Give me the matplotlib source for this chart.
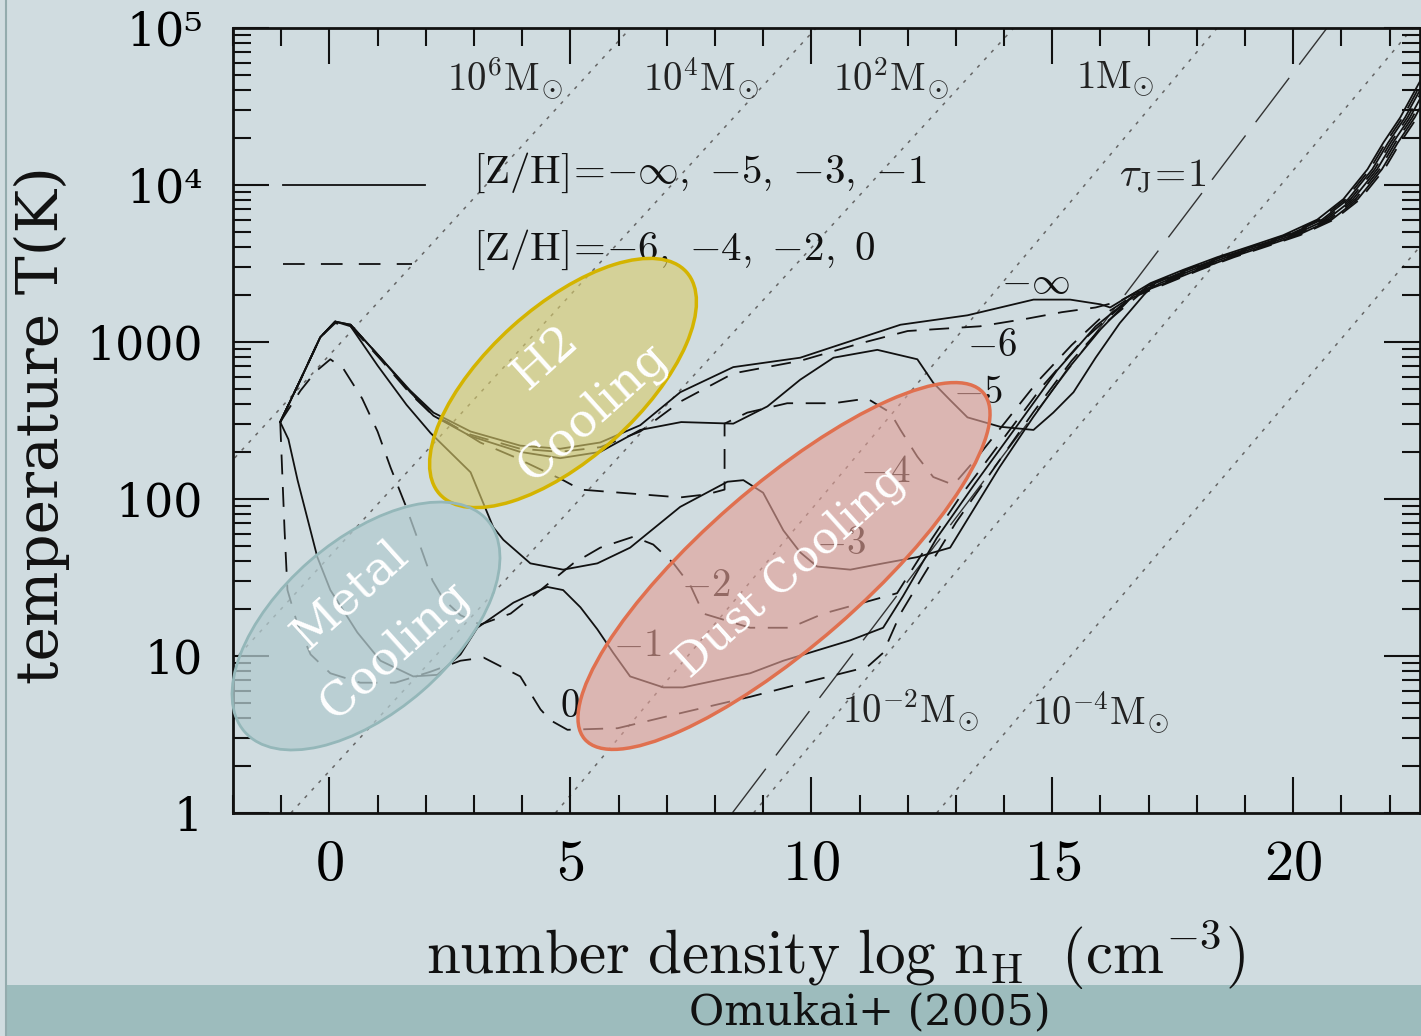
import numpy as np
import matplotlib
matplotlib.use("Agg")
import matplotlib.pyplot as plt
from matplotlib.patches import Ellipse, Rectangle
from matplotlib.ticker import FixedLocator, FixedFormatter, LogLocator, NullFormatter

plt.rcParams['mathtext.fontset'] = 'cm'

BG = '#d0dce0'
SERIF = ['DejaVu Serif']

# ---- thermal tracks: log n_H [cm^-3] and log T [K] ----
logn_minf = [-1.02, -0.60, -0.19, 0.12, 0.44, 1.06, 1.68, 2.16, 2.93, 3.96, 4.79, 5.62, 6.45, 7.28,
             8.38, 9.77, 10.46, 11.85, 13.24, 14.61, 15.37, 16.0, 16.2]
logT_minf = [2.49, 2.76, 3.03, 3.13, 3.11, 2.90, 2.69, 2.55, 2.43, 2.34, 2.32, 2.36, 2.47, 2.68,
             2.84, 2.90, 2.97, 3.11, 3.17, 3.27, 3.27, 3.24, 3.22]

logn_m6 = [-1.02, -0.60, -0.19, 0.12, 0.44, 1.06, 1.68, 2.16, 2.93, 3.96, 4.79, 5.62, 6.45, 7.28,
           8.38, 9.77, 11.0, 12.0, 13.5, 14.5, 15.2, 15.9, 16.4]
logT_m6 = [2.49, 2.76, 3.03, 3.12, 3.10, 2.89, 2.67, 2.53, 2.41, 2.32, 2.30, 2.33, 2.43, 2.62,
           2.80, 2.88, 2.99, 3.07, 3.10, 3.15, 3.19, 3.22, 3.26]

logn_m5 = [-1.02, -0.60, -0.19, 0.12, 0.44, 1.06, 1.68, 2.16, 2.93, 3.96, 4.79, 5.62, 6.45, 7.3,
           8.38, 9.09, 9.77, 10.46, 11.37, 12.2, 12.53, 12.88, 13.24, 13.92, 14.61, 15.02, 15.44,
           15.9, 16.4, 16.9]
logT_m5 = [2.49, 2.76, 3.03, 3.13, 3.11, 2.90, 2.68, 2.53, 2.40, 2.30, 2.26, 2.30, 2.44, 2.49,
           2.48, 2.59, 2.76, 2.90, 2.95, 2.89, 2.74, 2.63, 2.52, 2.46, 2.44, 2.55, 2.68,
           2.90, 3.12, 3.30]

logn_m4 = [-1.02, -0.60, -0.19, 0.12, 0.44, 1.06, 1.68, 2.16, 2.45, 3.13, 3.82, 4.85, 5.21, 7.28,
           7.84, 8.2, 8.2, 8.67, 9.50, 10.46, 11.16, 11.64, 11.85, 12.2, 12.53, 12.95,
           13.4, 14.0, 14.7, 15.4, 16.1, 16.7]
logT_m4 = [2.49, 2.76, 3.03, 3.13, 3.11, 2.90, 2.68, 2.53, 2.49, 2.36, 2.27, 2.12, 2.06, 2.01,
           2.03, 2.06, 2.48, 2.55, 2.61, 2.61, 2.64, 2.55, 2.44, 2.27, 2.14, 2.09,
           2.25, 2.48, 2.75, 2.98, 3.18, 3.30]

logn_m3 = [-1.02, -0.60, -0.19, 0.12, 0.44, 1.0, 1.6, 2.10, 2.93, 3.40, 3.61, 4.17, 4.85, 5.56,
           6.24, 7.28, 8.26, 8.59, 9.0, 9.42, 9.77, 10.12, 10.81, 11.49, 12.2, 12.88,
           13.3, 13.9, 14.6, 15.3, 16.0, 16.6]
logT_m3 = [2.49, 2.76, 3.03, 3.13, 3.10, 2.85, 2.60, 2.42, 2.17, 1.82, 1.74, 1.59, 1.55, 1.59,
           1.69, 1.95, 2.11, 2.12, 2.04, 1.80, 1.66, 1.57, 1.55, 1.59, 1.63, 1.69,
           1.90, 2.20, 2.52, 2.82, 3.08, 3.27]

logn_m2 = [-1.02, -0.60, -0.29, 0.02, 0.29, 0.68, 1.0, 1.27, 1.58, 1.85, 2.14, 2.37, 2.72, 3.13,
           3.76, 4.38, 5.06, 5.62, 6.31, 6.72, 7.14, 7.49, 7.76, 8.73, 9.56, 10.25, 11.08, 11.78,
           12.4, 13.1, 13.9, 14.8, 15.6, 16.4, 17.0]
logT_m2 = [2.49, 2.69, 2.81, 2.89, 2.83, 2.64, 2.43, 2.20, 1.96, 1.73, 1.48, 1.36, 1.26, 1.20,
           1.27, 1.42, 1.59, 1.69, 1.76, 1.71, 1.59, 1.45, 1.27, 1.18, 1.18, 1.27, 1.34, 1.40,
           1.70, 2.02, 2.35, 2.72, 3.00, 3.22, 3.36]

logn_m1 = [-1.02, -0.85, -0.66, -0.25, 0.02, 0.58, 1.06, 1.74, 2.24, 2.72, 3.07, 3.82, 4.52, 4.85,
           5.21, 5.56, 5.89, 6.24, 6.93, 7.34, 8.73, 9.42, 10.81, 11.49,
           11.9, 12.6, 13.4, 14.3, 15.1, 15.9, 16.7]
logT_m1 = [2.49, 2.38, 2.12, 1.63, 1.42, 1.15, 0.97, 0.87, 0.88, 1.01, 1.18, 1.34, 1.44, 1.42,
           1.31, 1.17, 1.02, 0.87, 0.80, 0.80, 0.89, 0.97, 1.10, 1.18,
           1.38, 1.75, 2.10, 2.48, 2.82, 3.10, 3.30]

logn_z0 = [-1.02, -0.98, -0.93, -0.87, -0.66, -0.39, 0.02, 0.64, 1.37, 2.10, 2.72, 3.20, 3.96, 4.38,
           4.59, 4.94, 5.98, 7.34, 8.73, 10.12, 11.16, 11.49, 11.85,
           12.3, 13.0, 13.8, 14.6, 15.4, 16.1, 16.8]
logT_z0 = [2.49, 2.18, 1.80, 1.42, 1.20, 1.01, 0.89, 0.83, 0.83, 0.90, 0.97, 0.99, 0.87, 0.66,
           0.59, 0.53, 0.54, 0.64, 0.74, 0.85, 0.93, 1.02, 1.27,
           1.50, 1.85, 2.20, 2.55, 2.88, 3.12, 3.30]

# common high-density (optically thick) track shared by all metallicities
logn_track = [17.04, 17.72, 18.42, 19.11, 19.79, 20.5, 21.04, 21.54, 21.87, 22.22, 22.7]
logT_track = [3.375, 3.46, 3.54, 3.61, 3.68, 3.78, 3.91, 4.10, 4.27, 4.43, 4.70]
track_shift = [0.0, 0.05, 0.10, 0.15, 0.20, 0.25, 0.30, 0.35]

# constant Jeans-mass lines: log n at T=1e5 K and at T=1 K
jeans_labels = ['10^6', '10^4', '10^2', '1', '10^{-2}', '10^{-4}']
jeans_logn_top = [6.25, 10.1, 14.2, 18.42, 22.48, 26.5]
jeans_logn_bottom = [-8.75, -4.9, -0.8, 4.69, 8.8, 12.6]

# tau_J = 1 line
tauJ_logn = [8.36, 20.7]
tauJ_logT = [0.0, 5.0]

x_ticks = [0, 5, 10, 15, 20]
y_ticks = [1, 10, 100, 1000, 1e4, 1e5]
y_ticklabels = ['1', '10', '100', '1000', '10\u2074', '10\u2075']

# ---- figure ----
fig = plt.figure(figsize=(14.21, 10.36), dpi=100, facecolor=BG)
ax = fig.add_axes([233 / 1421, 1 - 813 / 1036, (1420 - 233) / 1421, (813 - 28) / 1036])
ax.set_facecolor(BG)
ax.set_yscale('log')
ax.set_xlim(-2, 22.63)
ax.set_ylim(1, 1e5)

# Jeans-mass dotted lines
for top, bot in zip(jeans_logn_top, jeans_logn_bottom):
    ax.plot([bot, top], [1, 1e5], color='#666666', lw=1.1, dashes=(2.2, 4.5), zorder=1)

# tau_J = 1 long-dashed line
ax.plot(tauJ_logn, 10 ** np.array(tauJ_logT), color='#333333', lw=1.0, dashes=(40, 12), zorder=1)

curves = [
    (logn_minf, logT_minf, '-'), (logn_m6, logT_m6, '--'),
    (logn_m5, logT_m5, '-'), (logn_m4, logT_m4, '--'),
    (logn_m3, logT_m3, '-'), (logn_m2, logT_m2, '--'),
    (logn_m1, logT_m1, '-'), (logn_z0, logT_z0, '--'),
]
for (ln, lt, style), sh in zip(curves, track_shift):
    xs = list(ln) + [v + sh for v in logn_track]
    ys = 10 ** np.array(list(lt) + list(logT_track))
    if style == '-':
        ax.plot(xs, ys, color='#111111', lw=1.3, zorder=3)
    else:
        ax.plot(xs, ys, color='#111111', lw=1.3, dashes=(11, 7), zorder=3)

# legend samples
ax.plot([-0.97, 1.99], [1e4, 1e4], color='#111111', lw=1.3)
ax.plot([-0.97, 1.72], [10 ** 3.5, 10 ** 3.5], color='#111111', lw=1.3, dashes=(12, 9))
ax.text(2.99, 10 ** 4.08, r'$\mathrm{[Z/H]}\!=\!{-}\infty,\ {-}5,\ {-}3,\ {-}1$', fontsize=29.5,
        ha='left', va='center', color='#111111')
ax.text(2.99, 10 ** 3.585, r'$\mathrm{[Z/H]}\!=\!{-}6,\ {-}4,\ {-}2,\ 0$', fontsize=29.5,
        ha='left', va='center', color='#111111')

# Jeans-mass labels
mass_pos = [(3.65, 4.68), (7.70, 4.68), (11.64, 4.68), (16.31, 4.68), (12.05, 0.656), (16.0, 0.643)]
for lab, (px, py) in zip(jeans_labels, mass_pos):
    ax.text(px, 10 ** py, r'$%s\mathrm{M}_{\odot}$' % lab, fontsize=28, ha='center', va='center',
            color='#222222')
ax.text(17.28, 10 ** 4.06, r'$\tau_{\mathrm{J}}\!=\!1$', fontsize=29, ha='center', va='center',
        color='#222222')

# metallicity labels on the tracks
curve_labels = ['{-}\\infty', '{-}6', '{-}5', '{-}4', '{-}3', '{-}2', '{-}1', '0']
curve_label_pos = [(14.65, 3.38), (13.75, 2.98), (13.45, 2.68), (11.54, 2.18),
                   (10.62, 1.72), (7.80, 1.45), (6.38, 1.07), (5.0, 0.68)]
for lab, (px, py) in zip(curve_labels, curve_label_pos):
    ax.text(px, 10 ** py, r'$%s$' % lab, fontsize=28, ha='center', va='center', color='#111111')

# axes styling
for s in ax.spines.values():
    s.set_linewidth(2.0)
    s.set_color('#111111')
ax.xaxis.set_major_locator(FixedLocator(x_ticks))
ax.xaxis.set_minor_locator(FixedLocator(np.arange(-2, 23, 1)))
ax.xaxis.set_major_formatter(FixedFormatter(['$%d$' % t for t in x_ticks]))
ax.yaxis.set_major_locator(FixedLocator(y_ticks))
ax.yaxis.set_major_formatter(FixedFormatter(y_ticklabels))
ax.yaxis.set_minor_locator(LogLocator(base=10, subs=np.arange(2, 10)))
ax.yaxis.set_minor_formatter(NullFormatter())
ax.tick_params(which='both', direction='in', top=True, right=True, color='#111111', width=1.5)
ax.tick_params(which='major', length=26)
ax.tick_params(which='minor', length=13)
ax.tick_params(axis='x', which='major', labelsize=42, pad=16)
ax.tick_params(axis='y', which='major', labelsize=33, pad=22)
for t in ax.get_yticklabels():
    t.set_fontfamily(SERIF)

# axis titles
fig.text(835 / 1421, 1 - 955 / 1036, r'$\mathrm{number\ density\ log\ n_H\ \ (cm^{-3})}$',
         fontsize=44, ha='center', va='center', color='#111111')
fig.text(42 / 1421, 1 - 425 / 1036, 'temperature T(K)', fontsize=42, fontfamily=SERIF,
         rotation=90, ha='center', va='center', color='#111111')

# ---- overlay for annotation ellipses, in figure pixels ----
ov = fig.add_axes([0, 0, 1, 1], facecolor='none')
ov.set_xlim(0, 1421)
ov.set_ylim(1036, 0)
ov.axis('off')

ov.add_patch(Ellipse((563, 383), 332, 152, angle=-42, facecolor='#d8cb6c', alpha=0.62,
                     edgecolor='none', zorder=2))
ov.add_patch(Ellipse((563, 383), 332, 152, angle=-42, facecolor='none', edgecolor='#d4b400',
                     lw=2.5, zorder=3))
ov.add_patch(Ellipse((366, 626), 322, 172, angle=-41, facecolor='#b3cbcf', alpha=0.75,
                     edgecolor='none', zorder=2))
ov.add_patch(Ellipse((366, 626), 322, 172, angle=-41, facecolor='none', edgecolor='#94b7b9',
                     lw=2.0, zorder=3))
ov.add_patch(Ellipse((784, 566), 528, 160, angle=-41, facecolor='#e3a097', alpha=0.62,
                     edgecolor='none', zorder=2))
ov.add_patch(Ellipse((784, 566), 528, 160, angle=-41, facecolor='none', edgecolor='#e0704f',
                     lw=2.5, zorder=3))

txt_kw = dict(color='white', fontsize=34, fontfamily=SERIF, ha='center', va='center',
              rotation=42, rotation_mode='anchor', zorder=4)
ov.text(545, 358, 'H2', **txt_kw)
ov.text(593, 412, 'Cooling', **txt_kw)
ov.text(350, 595, 'Metal', **txt_kw)
ov.text(395, 650, 'Cooling', **txt_kw)
ov.text(790, 572, 'Dust Cooling', **dict(txt_kw, fontsize=32))

# caption band and frame line
ov.add_patch(Rectangle((7, 985), 1414, 51, facecolor='#9dbcbd', edgecolor='none', zorder=1))
ov.plot([6, 6], [0, 1036], color='#93abad', lw=1.5, zorder=1)
ov.text(870, 1012, 'Omukai+ (2005)', fontsize=31, fontfamily=SERIF, ha='center', va='center',
        color='#111111', zorder=4)

fig.savefig('out.png', dpi=100, facecolor=BG)
